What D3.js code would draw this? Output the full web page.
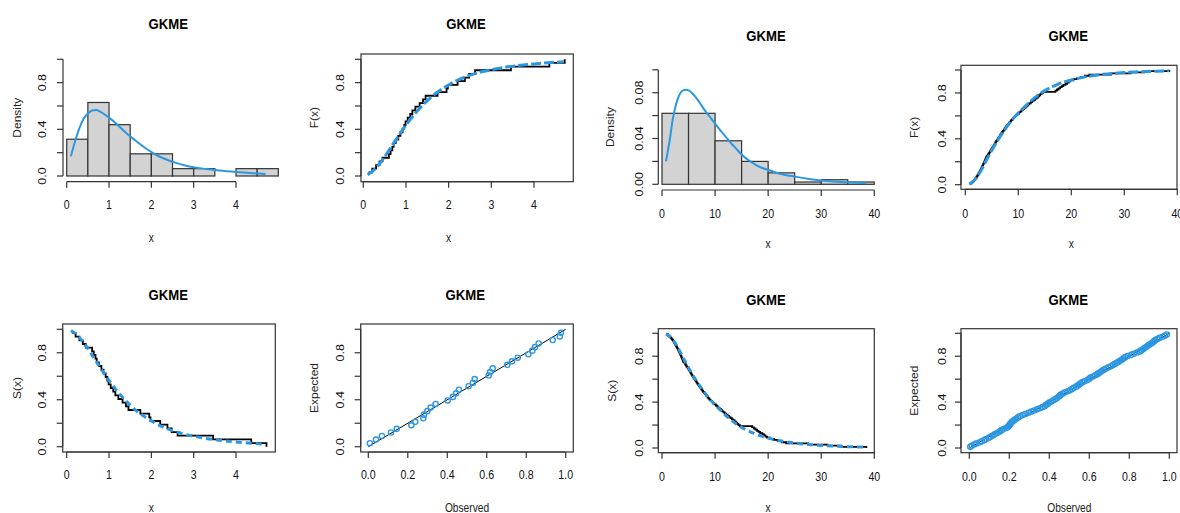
<!DOCTYPE html>
<html>
<head>
<meta charset="utf-8">
<script src="https://cdn.jsdelivr.net/npm/d3@7"></script>
<style>
  body { margin: 0; background: #fff; }
  svg { display: block; }
  text { font-family: "Liberation Sans", Arial, sans-serif; }
</style>
</head>
<body>
<div id="chart"></div>
<script>
// ---- data ----

// left pair: small sample (n = 32)
const sampleA = [0.12, 0.21, 0.30, 0.38, 0.45, 0.60, 0.64, 0.68, 0.71, 0.76, 0.82, 0.87, 0.92, 0.96, 0.99,
  1.04, 1.10, 1.15, 1.22, 1.32, 1.40, 1.46, 1.74, 1.95, 1.98, 2.21, 2.38, 2.48, 2.62, 3.46, 4.36, 4.72];
const histBreaksA = [0, 0.5, 1, 1.5, 2, 2.5, 3, 3.5, 4, 4.5, 5];
const histDensityA = [0.315, 0.63, 0.44, 0.19, 0.19, 0.063, 0.063, 0, 0.063, 0.063];
const densCurveA = [[0.1, 0.17], [0.2, 0.30], [0.3, 0.41], [0.4, 0.49], [0.5, 0.535], [0.6, 0.562], [0.7, 0.565],
  [0.8, 0.55], [1.0, 0.50], [1.2, 0.44], [1.4, 0.37], [1.6, 0.31], [1.8, 0.255], [2.0, 0.205], [2.2, 0.165],
  [2.4, 0.135], [2.6, 0.11], [2.8, 0.09], [3.0, 0.075], [3.3, 0.06], [3.6, 0.047], [4.0, 0.034], [4.4, 0.024], [4.7, 0.018]];
const cdfCurveA = [[0.1, 0.01], [0.2, 0.035], [0.3, 0.07], [0.4, 0.115], [0.5, 0.165], [0.6, 0.22], [0.7, 0.275],
  [0.8, 0.33], [0.9, 0.385], [1.0, 0.435], [1.2, 0.53], [1.4, 0.61], [1.6, 0.68], [1.8, 0.735], [2.0, 0.78],
  [2.2, 0.82], [2.4, 0.85], [2.6, 0.875], [2.8, 0.895], [3.0, 0.91], [3.3, 0.93], [3.6, 0.945], [4.0, 0.96],
  [4.4, 0.972], [4.7, 0.98]];
const ppObservedA = [0.008, 0.039, 0.069, 0.115, 0.144, 0.218, 0.238, 0.279, 0.282, 0.299, 0.316, 0.341, 0.402,
  0.429, 0.445, 0.459, 0.508, 0.530, 0.539, 0.610, 0.617, 0.630, 0.704, 0.728, 0.757, 0.811, 0.831, 0.845,
  0.863, 0.934, 0.970, 0.976];
const ppExpectedA = [0.030, 0.061, 0.091, 0.121, 0.152, 0.182, 0.212, 0.242, 0.273, 0.303, 0.333, 0.364, 0.394,
  0.424, 0.455, 0.485, 0.515, 0.545, 0.576, 0.606, 0.636, 0.667, 0.697, 0.727, 0.758, 0.788, 0.818, 0.848,
  0.879, 0.909, 0.939, 0.970];

// right pair: larger sample (n = 100)
const sampleB = [0.82, 1.15, 1.40, 1.62, 1.80, 1.96, 2.10, 2.25, 2.38, 2.50, 2.62, 2.74, 2.85, 2.96, 3.07, 3.17,
  3.27, 3.37, 3.47, 3.57, 3.66, 3.75, 3.85, 3.94, 4.03, 4.22, 4.35, 4.50, 4.62, 4.78, 4.91,
  5.05, 5.18, 5.30, 5.42, 5.55, 5.68, 5.80, 5.95, 6.10, 6.22, 6.38, 6.52, 6.66, 6.80, 6.95, 7.10, 7.25, 7.42,
  7.58, 7.74, 7.90, 8.08, 8.25, 8.42, 8.60, 8.78, 8.97, 9.18, 9.40, 9.62, 9.85,
  10.15, 10.40, 10.62, 10.85, 11.10, 11.35, 11.58, 11.82, 12.08, 12.35, 12.62, 12.90, 13.18, 13.45, 13.70,
  13.92, 14.15, 14.40, 14.70,
  17.0, 17.3, 17.6, 17.9, 18.2, 18.5, 18.9, 19.2, 19.5, 19.8,
  20.4, 21.1, 21.8, 22.6, 23.4, 27.5, 31.2, 33.8, 38.5];
const histBreaksB = [0, 5, 10, 15, 20, 25, 30, 35, 40];
const histDensityB = [0.062, 0.062, 0.038, 0.020, 0.010, 0.002, 0.004, 0.002];
const densCurveB = [[0.75, 0.020], [1.5, 0.040], [2, 0.056], [2.5, 0.067], [3, 0.075], [3.5, 0.080], [4, 0.082],
  [4.5, 0.0825], [5, 0.082], [6, 0.078], [7, 0.072], [8, 0.065], [9, 0.059], [10, 0.053], [11, 0.047],
  [12, 0.0415], [13, 0.036], [14, 0.031], [15, 0.026], [16, 0.022], [17, 0.019], [18, 0.016], [20, 0.0125],
  [22, 0.0095], [25, 0.0067], [28, 0.0045], [30, 0.0033], [33, 0.0022], [35, 0.0017], [38.5, 0.001]];
const cdfCurveB = [[0.75, 0.005], [1.5, 0.03], [2, 0.055], [3, 0.125], [4, 0.215], [5, 0.30], [6, 0.38], [7, 0.45],
  [8, 0.515], [9, 0.575], [10, 0.625], [11, 0.67], [12, 0.715], [13, 0.755], [14, 0.79], [15, 0.82], [16, 0.845],
  [17, 0.865], [18, 0.885], [19, 0.90], [20, 0.913], [22, 0.935], [24, 0.95], [26, 0.962], [28, 0.971],
  [30, 0.978], [32, 0.983], [34, 0.987], [36, 0.99], [38.5, 0.993]];
const ppObservedB = [0.005, 0.012, 0.024, 0.036, 0.052, 0.063, 0.075, 0.084, 0.098, 0.106,
  0.118, 0.127, 0.137, 0.148, 0.156, 0.163, 0.174, 0.190, 0.195, 0.200,
  0.204, 0.209, 0.213, 0.221, 0.228, 0.236, 0.244, 0.252, 0.266, 0.280,
  0.296, 0.310, 0.324, 0.338, 0.352, 0.366, 0.378, 0.384, 0.392, 0.400,
  0.410, 0.420, 0.430, 0.438, 0.446, 0.452, 0.458, 0.468, 0.478, 0.492,
  0.504, 0.514, 0.522, 0.534, 0.542, 0.550, 0.556, 0.566, 0.578, 0.592,
  0.600, 0.606, 0.618, 0.630, 0.640, 0.648, 0.656, 0.664, 0.674, 0.684,
  0.696, 0.708, 0.718, 0.728, 0.738, 0.746, 0.756, 0.764, 0.772, 0.780,
  0.792, 0.810, 0.822, 0.838, 0.852, 0.860, 0.868, 0.876, 0.884, 0.892,
  0.900, 0.910, 0.918, 0.924, 0.930, 0.940, 0.952, 0.966, 0.978, 0.988];
const ppExpectedB = [0.010, 0.020, 0.030, 0.040, 0.050, 0.059, 0.069, 0.079, 0.089, 0.099,
  0.109, 0.119, 0.129, 0.139, 0.149, 0.158, 0.168, 0.178, 0.188, 0.198,
  0.208, 0.218, 0.228, 0.238, 0.248, 0.257, 0.267, 0.277, 0.287, 0.297,
  0.307, 0.317, 0.327, 0.337, 0.347, 0.356, 0.366, 0.376, 0.386, 0.396,
  0.406, 0.416, 0.426, 0.436, 0.446, 0.455, 0.465, 0.475, 0.485, 0.495,
  0.505, 0.515, 0.525, 0.535, 0.545, 0.554, 0.564, 0.574, 0.584, 0.594,
  0.604, 0.614, 0.624, 0.634, 0.644, 0.653, 0.663, 0.673, 0.683, 0.693,
  0.703, 0.713, 0.723, 0.733, 0.743, 0.752, 0.762, 0.772, 0.782, 0.792,
  0.802, 0.812, 0.822, 0.832, 0.842, 0.851, 0.861, 0.871, 0.881, 0.891,
  0.901, 0.911, 0.921, 0.931, 0.941, 0.950, 0.960, 0.970, 0.980, 0.990];

const titleText = 'GKME';

// ---- drawing ----
const width = 1180, height = 513;
const blue = '#2b97e3';
const sx = 0.85; // the picture is a little squeezed sideways

const svg = d3.select('#chart').append('svg')
  .attr('width', width)
  .attr('height', height);

function addText(g, x, y, str, o) {
  const t = g.append('g')
    .attr('transform', `translate(${x},${y}) scale(${sx},1)` + (o.rot ? ' rotate(-90)' : ''));
  t.append('text')
    .attr('text-anchor', 'middle')
    .attr('dy', o.dy || '0.35em')
    .attr('font-size', o.size)
    .attr('font-weight', o.bold ? 'bold' : null)
    .attr('fill', o.fill || '#111')
    .text(str);
}

// layout of the 8 panels (pixel positions measured on the picture)
const panels = [
  { kind: 'hist', set: 'A', xd: [0, 4], xr: [66.7, 236], yd: [0, 1], yr: [176, 59.3], axisY: 181.7, axisX: 63,
    yTicks: [0, .2, .4, .6, .8, 1], yLabels: [0, .4, .8], fmt: '.1f', xTicks: [0, 1, 2, 3, 4],
    title: [168.3, 24], ylab: ['Density', 17.5], yTickX: 42.3, xTickY: 205, xlab: ['x', 241.7] },
  { kind: 'cdf', set: 'A', xd: [0, 4], xr: [363.3, 534], yd: [0, 1], yr: [176, 59.3], box: [361, 54, 573.3, 181.7],
    yTicks: [0, .2, .4, .6, .8, 1], yLabels: [0, .4, .8], fmt: '.1f', xTicks: [0, 1, 2, 3, 4],
    title: [466, 24], ylab: ['F(x)', 314], yTickX: 340.7, xTickY: 205, xlab: ['x', 241.7] },
  { kind: 'hist', set: 'B', xd: [0, 40], xr: [662, 874.3], yd: [0, 0.1], yr: [184.3, 69.8], axisY: 190, axisX: 658.3,
    yTicks: [0, .02, .04, .06, .08, .1], yLabels: [0, .04, .08], fmt: '.2f', xTicks: [0, 10, 20, 30, 40],
    title: [766, 35.8], ylab: ['Density', 610.7], yTickX: 639, xTickY: 213.3, xlab: ['x', 248.3] },
  { kind: 'cdf', set: 'B', xd: [0, 40], xr: [965.3, 1177.3], yd: [0, 1], yr: [184.7, 70], box: [961, 65.3, 1177, 189.3],
    yTicks: [0, .2, .4, .6, .8, 1], yLabels: [0, .4, .8], fmt: '.1f', xTicks: [0, 10, 20, 30, 40],
    title: [1068.3, 35.8], ylab: ['F(x)', 914], yTickX: 942.3, xTickY: 213.3, xlab: ['x', 248.3] },
  { kind: 'surv', set: 'A', xd: [0, 4], xr: [66.7, 236], yd: [0, 1], yr: [446.7, 329.3], box: [62.7, 324, 275.3, 452],
    yTicks: [0, .2, .4, .6, .8, 1], yLabels: [0, .4, .8], fmt: '.1f', xTicks: [0, 1, 2, 3, 4],
    title: [168.3, 294.2], ylab: ['S(x)', 17.5], yTickX: 42.5, xTickY: 475, xlab: ['x', 511.5] },
  { kind: 'pp', set: 'A', xd: [0, 1], xr: [368.3, 565.7], yd: [0, 1], yr: [446.7, 329.3], box: [360.7, 324, 573.3, 452],
    yTicks: [0, .2, .4, .6, .8, 1], yLabels: [0, .4, .8], fmt: '.1f', xTicks: [0, .2, .4, .6, .8, 1],
    title: [465.3, 294.2], ylab: ['Expected', 314], yTickX: 340.7, xTickY: 475, xlab: ['Observed', 511.5] },
  { kind: 'surv', set: 'B', xd: [0, 40], xr: [662, 874.3], yd: [0, 1], yr: [448, 333.3], box: [658.3, 328.7, 874.3, 452.7],
    yTicks: [0, .2, .4, .6, .8, 1], yLabels: [0, .4, .8], fmt: '.1f', xTicks: [0, 10, 20, 30, 40],
    title: [766, 299.8], ylab: ['S(x)', 612.3], yTickX: 639, xTickY: 476.7, xlab: ['x', 511.5] },
  { kind: 'pp', set: 'B', xd: [0, 1], xr: [969.3, 1169.3], yd: [0, 1], yr: [448, 333.3], box: [961, 328.7, 1177, 452.7],
    yTicks: [0, .2, .4, .6, .8, 1], yLabels: [0, .4, .8], fmt: '.1f', xTicks: [0, .2, .4, .6, .8, 1],
    title: [1068.3, 299.8], ylab: ['Expected', 914], yTickX: 942.3, xTickY: 476.7, xlab: ['Observed', 511.5] }
];

const sets = {
  A: { sample: sampleA, breaks: histBreaksA, dens: histDensityA, densCurve: densCurveA, cdf: cdfCurveA,
       ppx: ppObservedA, ppy: ppExpectedA },
  B: { sample: sampleB, breaks: histBreaksB, dens: histDensityB, densCurve: densCurveB, cdf: cdfCurveB,
       ppx: ppObservedB, ppy: ppExpectedB }
};

const tickLen = 6;

panels.forEach(p => {
  const d = sets[p.set];
  const g = svg.append('g');
  const x = d3.scaleLinear().domain(p.xd).range(p.xr);
  const y = d3.scaleLinear().domain(p.yd).range(p.yr);
  const fmt = d3.format(p.fmt);

  // marks
  if (p.kind === 'hist') {
    g.selectAll('rect.bar')
      .data(d.dens)
      .join('rect')
      .attr('class', 'bar')
      .attr('x', (v, i) => x(d.breaks[i]))
      .attr('width', (v, i) => x(d.breaks[i + 1]) - x(d.breaks[i]))
      .attr('y', v => y(v))
      .attr('height', v => y(0) - y(v))
      .attr('fill', '#d3d3d3')
      .attr('stroke', '#333')
      .attr('stroke-width', 1.2);
    g.append('path')
      .datum(d.densCurve)
      .attr('d', d3.line().x(v => x(v[0])).y(v => y(v[1])).curve(d3.curveMonotoneX))
      .attr('fill', 'none')
      .attr('stroke', blue)
      .attr('stroke-width', 2);
  }

  if (p.kind === 'cdf' || p.kind === 'surv') {
    const n = d.sample.length;
    const surv = p.kind === 'surv';
    const steps = d.sample.map((v, i) => [v, surv ? 1 - (i + 1) / n : (i + 1) / n]);
    g.append('path')
      .datum(steps)
      .attr('d', d3.line().x(v => x(v[0])).y(v => y(v[1])).curve(d3.curveStepAfter))
      .attr('fill', 'none')
      .attr('stroke', '#000')
      .attr('stroke-width', 1.8);
    const fitted = d.cdf.map(v => [v[0], surv ? 1 - v[1] : v[1]]);
    g.append('path')
      .datum(fitted)
      .attr('d', d3.line().x(v => x(v[0])).y(v => y(v[1])).curve(d3.curveMonotoneX))
      .attr('fill', 'none')
      .attr('stroke', blue)
      .attr('stroke-width', 3)
      .attr('stroke-dasharray', surv ? '6,4' : '10,3');
  }

  if (p.kind === 'pp') {
    g.append('line')
      .attr('x1', x(0)).attr('y1', y(0))
      .attr('x2', x(1)).attr('y2', y(1))
      .attr('stroke', '#000')
      .attr('stroke-width', 1);
    g.selectAll('circle.pt')
      .data(d.ppx.map((v, i) => [v, d.ppy[i]]))
      .join('circle')
      .attr('class', 'pt')
      .attr('cx', v => x(v[0]))
      .attr('cy', v => y(v[1]))
      .attr('r', 2.6)
      .attr('fill', 'none')
      .attr('stroke', blue)
      .attr('stroke-width', 1.4);
  }

  // box + axes
  let ax0, ay0;
  if (p.box) {
    const [bx0, by0, bx1, by1] = p.box;
    g.append('rect')
      .attr('x', bx0).attr('y', by0)
      .attr('width', bx1 - bx0).attr('height', by1 - by0)
      .attr('fill', 'none')
      .attr('stroke', '#333')
      .attr('stroke-width', 1.2);
    ax0 = by1; ay0 = bx0;
  } else {
    ax0 = p.axisY; ay0 = p.axisX;
  }

  // bottom axis
  const xa = g.append('g').attr('transform', `translate(0,${ax0})`);
  xa.append('line')
    .attr('x1', x(p.xTicks[0])).attr('x2', x(p.xTicks[p.xTicks.length - 1]))
    .attr('stroke', '#333').attr('stroke-width', 1.2);
  xa.selectAll('line.tk')
    .data(p.xTicks)
    .join('line')
    .attr('class', 'tk')
    .attr('x1', v => x(v)).attr('x2', v => x(v))
    .attr('y1', 0).attr('y2', tickLen)
    .attr('stroke', '#333').attr('stroke-width', 1.2);
  p.xTicks.forEach(v => {
    addText(g, x(v), p.xTickY, p.xd[1] === 1 ? d3.format('.1f')(v) : String(v), { size: 12.5 });
  });

  // left axis
  const ya = g.append('g').attr('transform', `translate(${ay0},0)`);
  ya.append('line')
    .attr('y1', y(p.yTicks[0])).attr('y2', y(p.yTicks[p.yTicks.length - 1]))
    .attr('stroke', '#333').attr('stroke-width', 1.2);
  ya.selectAll('line.tk')
    .data(p.yTicks)
    .join('line')
    .attr('class', 'tk')
    .attr('y1', v => y(v)).attr('y2', v => y(v))
    .attr('x1', 0).attr('x2', -tickLen)
    .attr('stroke', '#333').attr('stroke-width', 1.2);
  p.yLabels.forEach(v => {
    addText(g, p.yTickX, y(v), fmt(v), { size: 12.5, rot: true });
  });

  // titles and axis names
  addText(g, p.title[0], p.title[1], titleText, { size: 15.5, bold: true, fill: '#000' });
  addText(g, p.ylab[1], (p.yr[0] + p.yr[1]) / 2, p.ylab[0], { size: 12, rot: true, fill: '#222' });
  addText(g, (p.xr[0] + p.xr[1]) / 2, p.xlab[1], p.xlab[0], { size: 12, dy: '0', fill: '#222' });
});
</script>
</body>
</html>
